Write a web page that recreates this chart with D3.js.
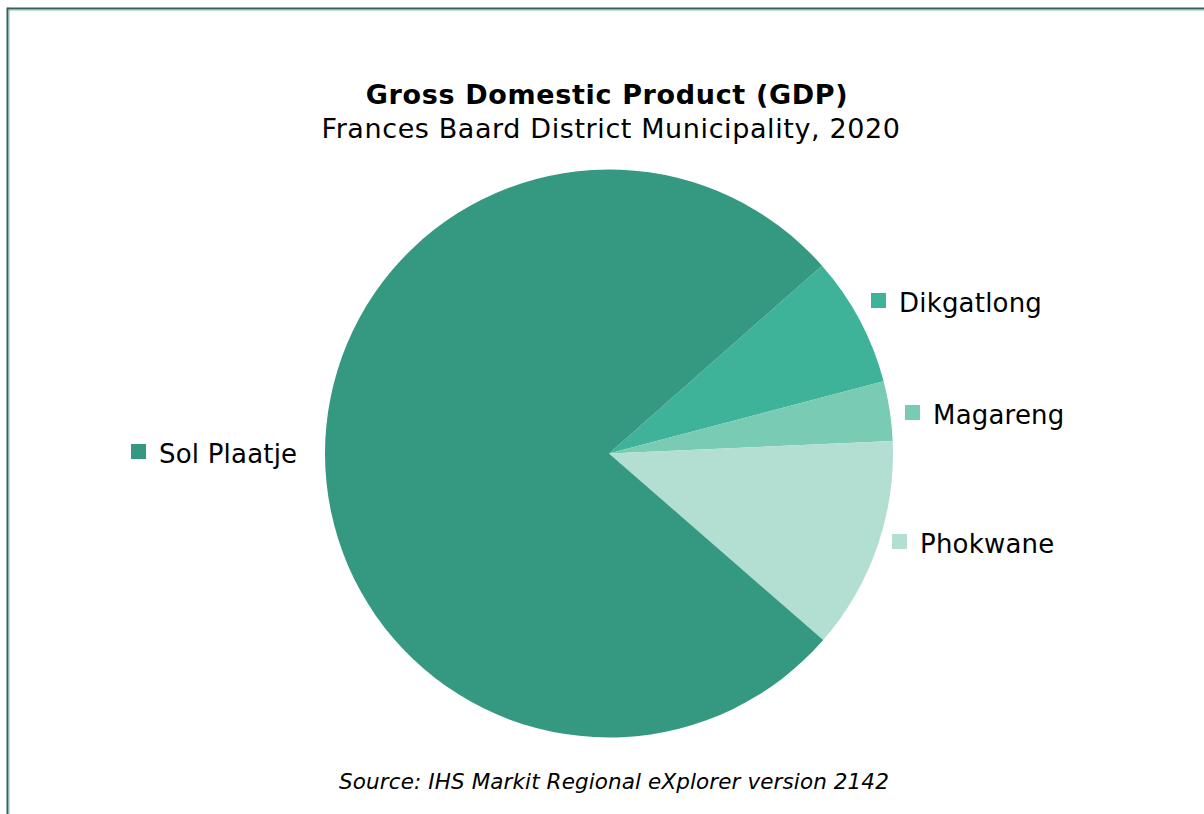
<!DOCTYPE html>
<html>
<head>
<meta charset="utf-8">
<script src="https://cdn.jsdelivr.net/npm/d3@7"></script>
<style>
  html, body { margin: 0; padding: 0; background: #fff; }
  svg { display: block; }
  text { font-family: "DejaVu Sans", Verdana, sans-serif; fill: #000; }
</style>
</head>
<body>
<svg id="chart" width="1204" height="814"></svg>
<script>
// Share of district GDP by local municipality (%)
const municipalities = ["Dikgatlong", "Magareng", "Phokwane", "Sol Plaatje"];
const gdpShare = [7.4, 3.4, 12.1, 77.1];
const sliceColors = ["#3fb399", "#79cbb3", "#b2dfd1", "#359982"];

const titleText = "Gross Domestic Product (GDP)";
const subtitleText = "Frances Baard District Municipality, 2020";
const sourceText = "Source: IHS Markit Regional eXplorer version 2142";

// Legend entry placement next to the pie
const legendLayout = {
  "Dikgatlong":  { x: 871, y: 293 },
  "Magareng":    { x: 905, y: 405 },
  "Phokwane":    { x: 892, y: 534 },
  "Sol Plaatje": { x: 131, y: 444 }
};

const svg = d3.select("#chart");
const W = 1204, H = 814;
const cx = 609, cy = 453.5, radius = 284;

// Frame: dark rule with a pale inner edge along top and left
svg.append("line").attr("x1", 7.5).attr("y1", 8.5).attr("x2", W).attr("y2", 8.5)
  .attr("stroke", "#2e625b").attr("stroke-width", 2);
svg.append("line").attr("x1", 9).attr("y1", 10).attr("x2", W).attr("y2", 10)
  .attr("stroke", "#8fb3ad").attr("stroke-width", 1);
svg.append("line").attr("x1", 7.5).attr("y1", 7.5).attr("x2", 7.5).attr("y2", H)
  .attr("stroke", "#2e625b").attr("stroke-width", 2);
svg.append("line").attr("x1", 9).attr("y1", 10).attr("x2", 9).attr("y2", H)
  .attr("stroke", "#8fb3ad").attr("stroke-width", 1);

// Titles
svg.append("text").attr("x", cx - 2).attr("y", 104).attr("text-anchor", "middle")
  .attr("font-size", 27).attr("letter-spacing", 0.65).attr("font-weight", "bold")
  .text(titleText);
svg.append("text").attr("x", cx + 2).attr("y", 138).attr("text-anchor", "middle")
  .attr("font-size", 27).attr("letter-spacing", 0.6).text(subtitleText);

// Pie
const color = d3.scaleOrdinal().domain(municipalities).range(sliceColors);
const data = municipalities.map((name, i) => ({ name, value: gdpShare[i] }));
const startDeg = 48.6;
const pie = d3.pie().sort(null).value(d => d.value)
  .startAngle(startDeg * Math.PI / 180)
  .endAngle(startDeg * Math.PI / 180 + 2 * Math.PI);
const arc = d3.arc().innerRadius(0).outerRadius(radius);

svg.append("g").attr("transform", `translate(${cx},${cy})`)
  .selectAll("path").data(pie(data)).join("path")
  .attr("d", arc)
  .attr("fill", d => color(d.data.name));

// Legend
const legend = svg.append("g").selectAll("g").data(municipalities).join("g")
  .attr("transform", d => `translate(${legendLayout[d].x},${legendLayout[d].y})`);
legend.append("rect").attr("width", 15).attr("height", 15)
  .attr("fill", d => color(d));
legend.append("text").attr("x", 28).attr("y", 18.5).attr("font-size", 26)
  .attr("letter-spacing", 0.2).text(d => d);

// Source note
svg.append("text").attr("x", 614).attr("y", 789).attr("text-anchor", "middle")
  .attr("font-size", 21.5).attr("letter-spacing", 0.1).attr("font-style", "italic")
  .text(sourceText);
</script>
</body>
</html>
